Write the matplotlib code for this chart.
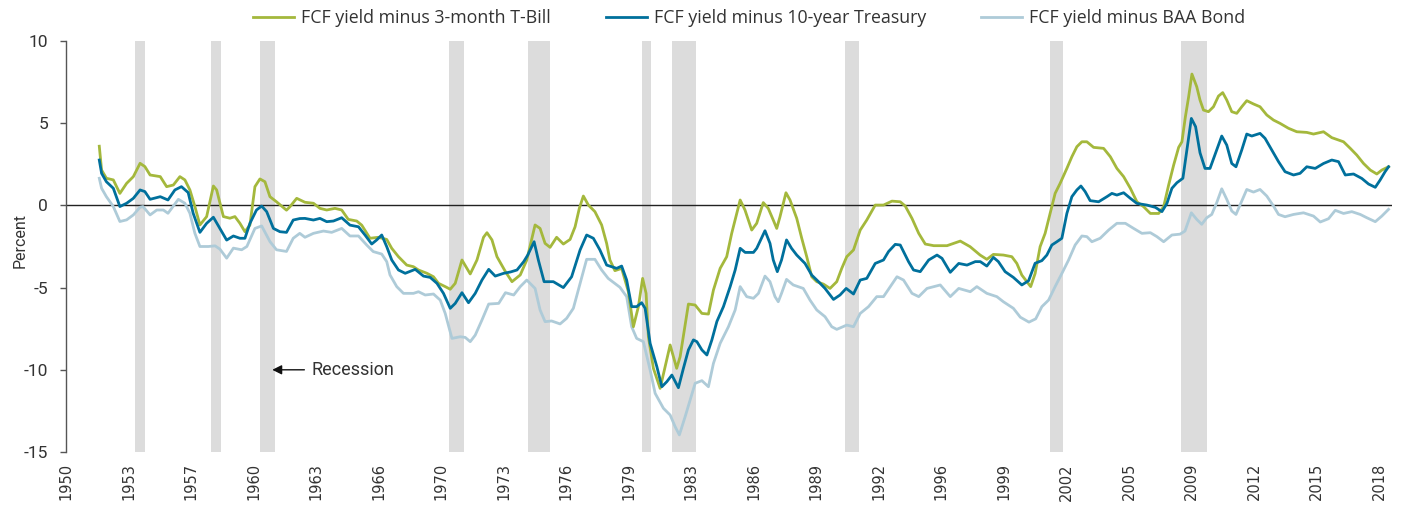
import matplotlib
matplotlib.use("Agg")
import matplotlib.pyplot as plt
from matplotlib import font_manager as fm
from matplotlib.ticker import FixedLocator, FuncFormatter

# ---------------- data ----------------
green_years = [1951.73, 1951.85, 1952.1, 1952.46, 1952.8, 1953.15, 1953.5, 1953.85, 1954.1, 1954.37,
               1954.9, 1955.23, 1955.58, 1955.92, 1956.18, 1956.44, 1956.7, 1956.96, 1957.31, 1957.66,
               1957.83, 1958.18, 1958.52, 1958.78, 1959.04, 1959.3, 1959.56, 1959.82, 1960.08, 1960.34,
               1960.6, 1960.94, 1961.46, 1961.64, 1961.99, 1962.42, 1962.86, 1963.2, 1963.55, 1963.98,
               1964.33, 1964.67, 1965.11, 1965.37, 1965.8, 1966.23, 1966.67, 1966.93, 1967.28, 1967.71,
               1968.06, 1968.32, 1968.76, 1969.1, 1969.36, 1969.71, 1969.97, 1970.23, 1970.58, 1971.01,
               1971.36, 1971.7, 1971.88, 1972.14, 1972.4, 1972.84, 1973.18, 1973.61, 1973.95, 1974.38,
               1974.64, 1974.9, 1975.16, 1975.5, 1975.85, 1976.2, 1976.46, 1976.68, 1976.89, 1977.15,
               1977.49, 1977.84, 1978.1, 1978.27, 1978.53, 1978.88, 1979.23, 1979.49, 1979.75, 1979.97,
               1980.15, 1980.27, 1980.53, 1980.88, 1981.14, 1981.4, 1981.74, 1981.92, 1982.18, 1982.35,
               1982.7, 1983.05, 1983.39, 1983.65, 1984.0, 1984.34, 1984.6, 1985.04, 1985.29, 1985.64,
               1985.9, 1986.24, 1986.5, 1986.76, 1986.94, 1987.11, 1987.42, 1987.63, 1987.98, 1988.24,
               1988.5, 1988.76, 1989.02, 1989.37, 1989.71, 1990.06, 1990.32, 1990.58, 1990.93, 1991.28,
               1991.62, 1992.06, 1992.49, 1992.93, 1993.36, 1993.62, 1993.97, 1994.32, 1994.66, 1995.1,
               1995.79, 1996.14, 1996.48, 1996.99, 1997.51, 1997.86, 1998.2, 1998.72, 1999.16, 1999.42,
               1999.68, 1999.94, 2000.14, 2000.37, 2000.63, 2000.89, 2001.15, 2001.41, 2001.67, 2002.02,
               2002.28, 2002.54, 2002.8, 2003.06, 2003.41, 2003.93, 2004.28, 2004.62, 2004.97, 2005.32,
               2005.66, 2006.01, 2006.36, 2006.79, 2007.05, 2007.31, 2007.57, 2007.83, 2008.0, 2008.18,
               2008.35, 2008.52, 2008.77, 2008.94, 2009.12, 2009.38, 2009.64, 2009.9, 2010.12, 2010.33,
               2010.59, 2010.85, 2011.11, 2011.37, 2011.72, 2012.06, 2012.41, 2012.76, 2013.1, 2013.54,
               2013.97, 2014.49, 2014.84, 2015.36, 2015.79, 2016.4, 2016.75, 2017.09, 2017.44, 2017.79,
               2018.13, 2018.39, 2018.74]
green_vals = [3.6, 2.15, 1.65, 1.55, 0.73, 1.34, 1.75, 2.56, 2.36, 1.85,
              1.75, 1.14, 1.24, 1.75, 1.55, 0.94, -0.07, -1.19, -0.68, 1.18,
              0.94, -0.68, -0.78, -0.68, -1.09, -1.6, -1.19, 1.14, 1.61, 1.44,
              0.53, 0.22, -0.29, -0.08, 0.43, 0.19, 0.13, -0.18, -0.28, -0.18,
              -0.28, -0.85, -0.95, -1.2, -2.0, -1.94, -2.07, -2.61, -3.12, -3.63,
              -3.73, -3.93, -4.13, -4.34, -4.74, -4.94, -5.1, -4.74, -3.32, -4.17,
              -3.32, -1.94, -1.66, -2.1, -3.12, -4.03, -4.64, -4.23, -3.32, -1.19,
              -1.4, -2.31, -2.55, -1.94, -2.35, -2.07, -1.3, -0.18, 0.57, 0.02,
              -0.38, -1.19, -2.31, -3.32, -3.97, -3.83, -5.25, -7.38, -6.16, -4.44,
              -5.35, -7.99, -9.91, -11.13, -9.81, -8.49, -9.91, -9.2, -7.28, -6.0,
              -6.06, -6.57, -6.61, -5.15, -3.83, -3.12, -1.7, 0.33, -0.28, -1.5,
              -1.09, 0.17, -0.18, -0.89, -1.4, -0.69, 0.77, 0.33, -0.79, -2.0,
              -3.12, -4.34, -4.64, -4.79, -5.05, -4.64, -3.83, -3.12, -2.71, -1.5,
              -0.89, 0.02, 0.02, 0.26, 0.22, -0.04, -0.79, -1.7, -2.35, -2.45,
              -2.45, -2.31, -2.17, -2.51, -3.02, -3.28, -2.98, -3.02, -3.12, -3.53,
              -4.24, -4.64, -4.94, -4.14, -2.51, -1.7, -0.49, 0.73, 1.34, 2.25,
              2.96, 3.57, 3.87, 3.87, 3.53, 3.47, 2.96, 2.25, 1.75, 1.04,
              0.22, -0.08, -0.49, -0.49, -0.08, 1.24, 2.45, 3.53, 3.87, 5.39,
              6.61, 7.99, 7.22, 6.41, 5.8, 5.7, 6.0, 6.65, 6.86, 6.41,
              5.7, 5.6, 6.0, 6.37, 6.17, 6.0, 5.5, 5.19, 4.99, 4.69,
              4.48, 4.44, 4.34, 4.48, 4.12, 3.87, 3.47, 3.06, 2.55, 2.15,
              1.91, 2.15, 2.35]

blue_years = [1951.73, 1951.85, 1952.1, 1952.46, 1952.8, 1953.15, 1953.5, 1953.85, 1954.1, 1954.37,
              1954.9, 1955.3, 1955.66, 1956.0, 1956.35, 1956.61, 1956.96, 1957.31, 1957.66, 1958.0,
              1958.35, 1958.7, 1959.04, 1959.3, 1959.56, 1959.9, 1960.17, 1960.43, 1960.78, 1961.12,
              1961.46, 1961.81, 1962.15, 1962.42, 1962.86, 1963.2, 1963.55, 1963.9, 1964.33, 1964.76,
              1965.2, 1965.54, 1965.89, 1966.15, 1966.41, 1966.67, 1966.93, 1967.28, 1967.63, 1968.15,
              1968.58, 1968.93, 1969.28, 1969.62, 1969.97, 1970.23, 1970.58, 1970.92, 1971.27, 1971.62,
              1971.97, 1972.31, 1972.75, 1973.1, 1973.44, 1973.79, 1974.0, 1974.33, 1974.55, 1974.85,
              1975.33, 1975.85, 1976.28, 1976.72, 1977.06, 1977.41, 1977.75, 1978.1, 1978.62, 1978.88,
              1979.14, 1979.4, 1979.66, 1979.92, 1980.1, 1980.36, 1980.71, 1980.97, 1981.23, 1981.49,
              1981.83, 1982.09, 1982.35, 1982.61, 1982.79, 1983.05, 1983.31, 1983.57, 1983.83, 1984.17,
              1984.52, 1984.78, 1985.04, 1985.3, 1985.73, 1985.9, 1986.33, 1986.59, 1986.76, 1986.97,
              1987.19, 1987.45, 1987.71, 1987.98, 1988.41, 1988.76, 1989.11, 1989.45, 1989.89, 1990.23,
              1990.55, 1990.93, 1991.28, 1991.62, 1992.06, 1992.49, 1992.75, 1993.1, 1993.36, 1993.79,
              1994.05, 1994.4, 1994.84, 1995.27, 1995.53, 1995.96, 1996.4, 1996.83, 1997.26, 1997.52,
              1997.86, 1998.2, 1998.46, 1998.81, 1999.24, 1999.68, 2000.03, 2000.37, 2000.72, 2000.98,
              2001.24, 2001.5, 2001.76, 2002.02, 2002.28, 2002.54, 2002.75, 2002.97, 2003.23, 2003.67,
              2004.1, 2004.36, 2004.62, 2004.97, 2005.32, 2005.66, 2006.18, 2006.62, 2006.96, 2007.22,
              2007.48, 2007.74, 2008.05, 2008.26, 2008.49, 2008.71, 2008.94, 2009.2, 2009.46, 2009.81,
              2010.07, 2010.33, 2010.59, 2010.81, 2011.11, 2011.37, 2011.63, 2012.06, 2012.32, 2012.67,
              2013.02, 2013.36, 2013.8, 2014.14, 2014.49, 2014.93, 2015.36, 2015.79, 2016.14, 2016.49,
              2016.92, 2017.35, 2017.7, 2018.05, 2018.3, 2018.56, 2018.74]
blue_vals = [2.76, 1.95, 1.44, 1.04, -0.07, 0.13, 0.43, 0.94, 0.84, 0.37,
             0.53, 0.33, 0.94, 1.14, 0.78, -0.48, -1.64, -1.09, -0.72, -1.4,
             -2.11, -1.86, -2.0, -2.0, -1.09, -0.28, -0.04, -0.38, -1.4, -1.6,
             -1.64, -0.89, -0.8, -0.79, -0.89, -0.79, -0.99, -0.95, -0.75, -1.2,
             -1.3, -1.8, -2.35, -2.1, -1.8, -2.51, -3.32, -3.93, -4.13, -3.89,
             -4.3, -4.38, -4.74, -5.35, -6.26, -5.96, -5.31, -5.92, -5.35, -4.54,
             -3.89, -4.3, -4.13, -4.05, -3.93, -3.42, -3.02, -2.21, -3.32, -4.64,
             -4.64, -5.0, -4.34, -2.71, -1.8, -2.0, -2.71, -3.63, -3.83, -3.69,
             -4.54, -6.16, -6.16, -5.92, -6.26, -8.39, -9.81, -11.03, -10.72, -10.32,
             -11.09, -9.91, -8.79, -8.18, -8.29, -8.79, -9.1, -8.18, -7.06, -6.16,
             -4.94, -3.93, -2.61, -2.86, -2.86, -2.61, -1.54, -2.31, -3.32, -4.03,
             -3.32, -2.1, -2.61, -3.02, -3.53, -4.24, -4.64, -5.05, -5.72, -5.45,
             -5.05, -5.39, -4.54, -4.44, -3.53, -3.32, -2.81, -2.37, -2.41, -3.42,
             -3.93, -4.03, -3.32, -3.02, -3.22, -4.07, -3.53, -3.63, -3.42, -3.42,
             -3.69, -3.16, -3.42, -4.03, -4.38, -4.84, -4.58, -3.52, -3.36, -3.02,
             -2.41, -2.21, -2.0, -0.49, 0.53, 0.94, 1.18, 0.84, 0.29, 0.22,
             0.53, 0.73, 0.63, 0.77, 0.43, 0.12, 0.02, -0.12, -0.38, 0.12,
             1.04, 1.38, 1.65, 3.37, 5.29, 4.79, 3.2, 2.25, 2.25, 3.37,
             4.22, 3.67, 2.55, 2.35, 3.37, 4.34, 4.22, 4.38, 4.08, 3.37,
             2.66, 2.05, 1.85, 1.95, 2.35, 2.25, 2.55, 2.76, 2.66, 1.85,
             1.91, 1.64, 1.3, 1.1, 1.54, 2.05, 2.35]

light_years = [1951.73, 1951.85, 1952.1, 1952.46, 1952.8, 1953.15, 1953.5, 1953.85, 1954.0, 1954.37,
               1954.72, 1955.06, 1955.3, 1955.84, 1956.18, 1956.44, 1956.7, 1956.96, 1957.4, 1957.75,
               1958.0, 1958.35, 1958.7, 1959.13, 1959.4, 1959.82, 1960.17, 1960.6, 1960.94, 1961.46,
               1961.81, 1962.15, 1962.42, 1962.86, 1963.38, 1963.81, 1964.33, 1964.76, 1965.2, 1965.63,
               1965.97, 1966.41, 1966.67, 1966.84, 1967.19, 1967.54, 1968.06, 1968.32, 1968.67, 1969.1,
               1969.45, 1969.71, 1970.06, 1970.49, 1970.75, 1971.01, 1971.27, 1971.62, 1971.97, 1972.49,
               1972.84, 1973.27, 1973.61, 1973.95, 1974.38, 1974.64, 1974.9, 1975.24, 1975.68, 1976.02,
               1976.37, 1976.72, 1977.06, 1977.49, 1977.84, 1978.18, 1978.79, 1979.14, 1979.4, 1979.66,
               1980.01, 1980.36, 1980.62, 1981.05, 1981.4, 1981.66, 1981.88, 1982.18, 1982.44, 1982.7,
               1983.05, 1983.39, 1983.65, 1984.0, 1984.43, 1984.78, 1985.04, 1985.38, 1985.73, 1985.99,
               1986.33, 1986.59, 1986.85, 1987.02, 1987.19, 1987.45, 1987.8, 1988.32, 1988.67, 1989.02,
               1989.45, 1989.8, 1990.06, 1990.58, 1990.93, 1991.28, 1991.71, 1992.14, 1992.49, 1992.84,
               1993.19, 1993.53, 1993.97, 1994.32, 1994.75, 1995.44, 1995.96, 1996.4, 1997.0, 1997.34,
               1997.86, 1998.38, 1998.72, 1999.24, 1999.6, 2000.05, 2000.4, 2000.72, 2001.07, 2001.41,
               2001.76, 2002.11, 2002.45, 2002.8, 2003.06, 2003.32, 2003.75, 2004.19, 2004.62, 2005.06,
               2005.49, 2005.92, 2006.36, 2006.7, 2007.05, 2007.48, 2007.9, 2008.16, 2008.49, 2008.77,
               2009.03, 2009.29, 2009.55, 2009.81, 2010.07, 2010.33, 2010.59, 2010.81, 2011.11, 2011.37,
               2011.72, 2012.06, 2012.41, 2012.76, 2013.02, 2013.36, 2013.8, 2014.32, 2014.84, 2015.19,
               2015.62, 2015.97, 2016.4, 2016.83, 2017.27, 2017.61, 2018.05, 2018.39, 2018.74]
light_vals = [1.65, 1.04, 0.53, -0.07, -0.98, -0.88, -0.58, -0.11, -0.07, -0.58,
              -0.28, -0.28, -0.48, 0.37, 0.13, -0.48, -1.7, -2.5, -2.5, -2.46,
              -2.66, -3.21, -2.6, -2.7, -2.5, -1.4, -1.25, -2.2, -2.7, -2.8,
              -2.0, -1.7, -1.94, -1.7, -1.56, -1.64, -1.4, -1.86, -1.86, -2.41,
              -2.81, -2.96, -3.42, -4.23, -4.94, -5.35, -5.35, -5.25, -5.45, -5.39,
              -5.76, -6.57, -8.09, -7.99, -8.03, -8.29, -7.89, -6.97, -6.0, -5.96,
              -5.31, -5.45, -4.94, -4.54, -5.05, -6.36, -7.07, -7.03, -7.21, -6.87,
              -6.26, -4.74, -3.28, -3.28, -3.93, -4.44, -4.98, -5.55, -7.38, -8.09,
              -8.29, -10.01, -11.43, -12.34, -12.75, -13.46, -13.96, -12.85, -11.84, -10.82,
              -10.66, -11.03, -9.61, -8.39, -7.38, -6.36, -4.94, -5.55, -5.65, -5.35,
              -4.3, -4.64, -5.55, -5.86, -5.35, -4.5, -4.84, -5.05, -5.76, -6.36,
              -6.77, -7.38, -7.54, -7.28, -7.38, -6.57, -6.16, -5.55, -5.55, -4.94,
              -4.34, -4.54, -5.35, -5.55, -5.05, -4.84, -5.55, -5.05, -5.25, -4.94,
              -5.35, -5.55, -5.86, -6.26, -6.8, -7.1, -6.9, -6.16, -5.76, -4.94,
              -4.14, -3.32, -2.41, -1.86, -1.9, -2.21, -2.0, -1.5, -1.09, -1.09,
              -1.4, -1.7, -1.66, -1.9, -2.21, -1.8, -1.75, -1.56, -0.45, -0.85,
              -1.15, -0.75, -0.55, 0.17, 1.01, 0.37, -0.34, -0.55, 0.27, 0.97,
              0.81, 0.97, 0.57, -0.04, -0.55, -0.69, -0.55, -0.45, -0.65, -1.01,
              -0.81, -0.3, -0.49, -0.38, -0.55, -0.75, -0.99, -0.65, -0.24]

recession_starts = [1953.6, 1957.55, 1960.08, 1969.93, 1974.0, 1979.94, 1981.5, 1990.49, 2001.12, 2007.94]
recession_ends = [1954.1, 1958.06, 1960.84, 1970.7, 1975.15, 1980.4, 1982.76, 1991.2, 2001.8, 2009.29]

tick_years = [1950.0, 1953.25, 1956.5, 1959.75, 1963.0, 1966.25, 1969.5, 1972.75, 1976.0, 1979.25, 1982.5,
              1985.75, 1989.0, 1992.25, 1995.5, 1998.75, 2002.0, 2005.25, 2008.5, 2011.75, 2015.0, 2018.25]
tick_labels = ["1950", "1953", "1957", "1960", "1963", "1966", "1970", "1973", "1976", "1979", "1983",
               "1986", "1989", "1992", "1996", "1999", "2002", "2005", "2009", "2012", "2015", "2018"]
y_ticks = [10, 5, 0, -5, -10, -15]

series_names = ["FCF yield minus 3-month T-Bill", "FCF yield minus 10-year Treasury", "FCF yield minus BAA Bond"]

# ---------------- style ----------------
available = {f.name for f in fm.fontManager.ttflist}


def pick(cands):
    for c in cands:
        if c in available:
            return c
    return "DejaVu Sans"


uifont = pick(["Roboto", "Open Sans", "Noto Sans", "Lato"])
legfont = pick(["Open Sans", "Noto Sans", "Roboto", "Lato"])

GREEN = "#a4b83c"
BLUE = "#00709c"
LIGHT = "#aecbd8"
TXT = "#333333"

W, H = 1403, 512
fig = plt.figure(figsize=(W / 100, H / 100), dpi=100)
left_px, right_px, top_px, bot_px = 66, 1392, 41, 452
ax = fig.add_axes([left_px / W, 1 - bot_px / H, (right_px - left_px) / W, (bot_px - top_px) / H])

for s, e in zip(recession_starts, recession_ends):
    ax.axvspan(s, e, color="#dcdcdc", lw=0, zorder=0)

ax.axhline(0, color="#222222", lw=1.0, zorder=1)

l1, = ax.plot(green_years, green_vals, color=GREEN, lw=2.0, zorder=3, solid_joinstyle="round")
l3, = ax.plot(light_years, light_vals, color=LIGHT, lw=2.0, zorder=2, solid_joinstyle="round")
l2, = ax.plot(blue_years, blue_vals, color=BLUE, lw=2.0, zorder=4, solid_joinstyle="round")

ax.set_xlim(1950, 1950 + (right_px - left_px) / 19.24)
ax.set_ylim(-15, 10)

for sp in ["top", "right", "bottom"]:
    ax.spines[sp].set_visible(False)
ax.spines["left"].set_color("#555555")
ax.spines["left"].set_linewidth(1.0)

ax.xaxis.set_major_locator(FixedLocator(tick_years))
ax.set_xticklabels(tick_labels, rotation=90, fontsize=10.5, color=TXT, family="DejaVu Sans")
ax.tick_params(axis="x", length=0, pad=8)

ax.yaxis.set_major_locator(FixedLocator(y_ticks))
ax.yaxis.set_major_formatter(FuncFormatter(lambda v, p: f"{int(v)}"))
ax.tick_params(axis="y", length=4, width=1, color="#555555", pad=9, labelsize=12.5, labelcolor=TXT)
for lab in ax.get_yticklabels():
    lab.set_family(uifont)

fig.text(20 / W, 1 - 241 / H, "Percent", rotation=90, ha="center", va="center",
         fontsize=11.5, color=TXT, family=uifont)

ax.annotate("Recession", xy=(1960.72, -10.0), xytext=(1962.75, -10.0),
            fontsize=13, color=TXT, family=uifont, va="center", ha="left",
            arrowprops=dict(arrowstyle="-|>", color="#111111", lw=1.0, mutation_scale=14,
                            shrinkA=3, shrinkB=0))

leg = fig.legend([l1, l2, l3], series_names, loc="center", bbox_to_anchor=(749 / W, 1 - 18 / H),
                 ncol=3, frameon=False, handlelength=2.3, columnspacing=3.1, handletextpad=0.4,
                 prop={"family": legfont, "size": 12.8})
for t in leg.get_texts():
    t.set_color(TXT)

fig.savefig("out.png", dpi=100)
